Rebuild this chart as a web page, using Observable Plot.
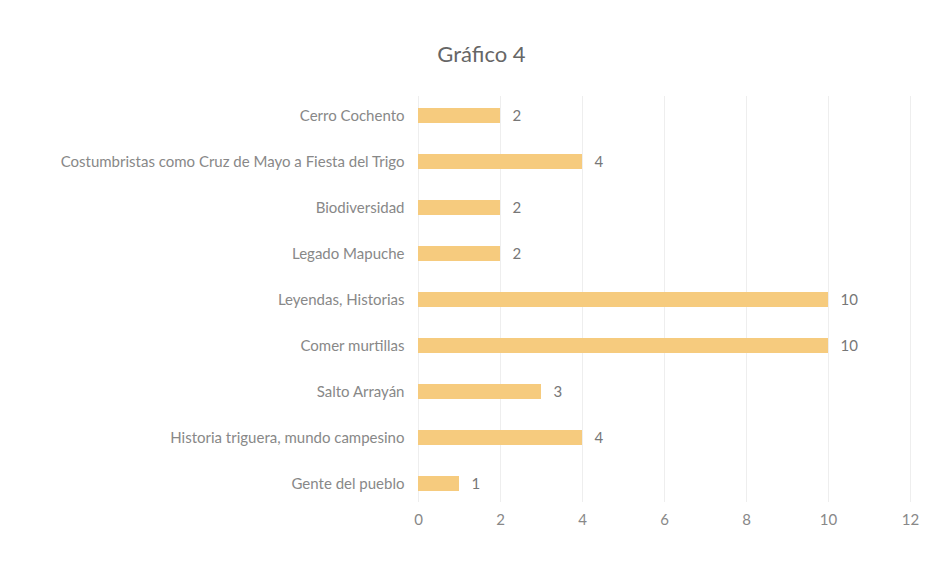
<!DOCTYPE html>
<html><head><meta charset="utf-8">
<script src="https://cdn.jsdelivr.net/npm/d3@7"></script>
<script src="https://cdn.jsdelivr.net/npm/@observablehq/plot@0.6"></script>
<style>
body{margin:0;background:#fff;font-family:Lato,"Open Sans",sans-serif;}
#title{height:80px;box-sizing:border-box;padding-top:40px;padding-left:28px;text-align:center;font-size:22px;color:#666;}
</style></head>
<body>
<div id="title">Gráfico 4</div>
<div id="chart"></div>
<script>
const categories = [
  "Cerro Cochento",
  "Costumbristas como Cruz de Mayo a Fiesta del Trigo",
  "Biodiversidad",
  "Legado Mapuche",
  "Leyendas, Historias",
  "Comer murtillas",
  "Salto Arrayán",
  "Historia triguera, mundo campesino",
  "Gente del pueblo"
];
const values = [2, 4, 2, 2, 10, 10, 3, 4, 1];
const xTicks = [0, 2, 4, 6, 8, 10, 12];

const data = categories.map((c, i) => ({category: c, value: values[i]}));

const chart = Plot.plot({
  width: 935,
  height: 481,
  marginLeft: 418,
  marginRight: 25,
  marginTop: 16,
  marginBottom: 59,
  style: {fontFamily: "Lato, 'Open Sans', sans-serif", fontSize: "15px", color: "#888", background: "#fff"},
  x: {domain: [0, 12], ticks: xTicks, tickSize: 0, tickPadding: 12, label: null},
  y: {domain: categories, paddingInner: 0.68, paddingOuter: 0.2, tickSize: 0, tickPadding: 14, label: null},
  marks: [
    Plot.ruleX(xTicks, {stroke: "#eeeeee", strokeWidth: 1}),
    Plot.barX(data, {x: "value", y: "category", fill: "#f6cb7e"}),
    Plot.text(data, {x: "value", y: "category", text: d => String(d.value), dx: 12, textAnchor: "start", fontSize: 15, fill: "#777"})
  ]
});
document.getElementById("chart").appendChild(chart);
</script>
</body></html>
